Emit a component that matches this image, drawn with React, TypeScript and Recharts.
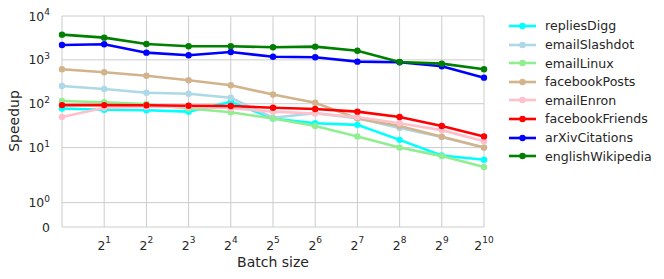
import { LineChart, Line, XAxis, YAxis, CartesianGrid } from 'recharts';

// batch size = 2^k
const batchExp = [0, 1, 2, 3, 4, 5, 6, 7, 8, 9, 10];

const repliesDigg = [78, 73, 71, 66, 111, 46, 36, 33, 15, 6.6, 5.3];
const emailSlashdot = [254, 217, 178, 169, 137, 48, 61, 47, 28, 17.5, 10];
const emailLinux = [115, 108, 99, 78, 64, 46, 31, 18, 10, 6.4, 3.6];
const facebookPosts = [610, 521, 436, 342, 263, 162, 105, 46, 31, 17.7, 10];
const emailEnron = [50, 81, 84, 84, 79, 66, 60, 50, 36, 25, 14];
const facebookFriends = [93, 93, 92, 90, 89, 81, 76, 66, 50, 31, 18];
const arXivCitations = [2190, 2270, 1460, 1270, 1510, 1180, 1150, 910, 880, 714, 393];
const englishWikipedia = [3760, 3210, 2300, 2040, 2040, 1940, 2000, 1620, 895, 820, 610];

const yTickValues = [0, 1, 10, 100, 1000, 10000];

const seriesList = [
  { name: 'repliesDigg', values: repliesDigg, color: '#00ffff' },
  { name: 'emailSlashdot', values: emailSlashdot, color: '#add8e6' },
  { name: 'emailLinux', values: emailLinux, color: '#90ee90' },
  { name: 'facebookPosts', values: facebookPosts, color: '#d2b48c' },
  { name: 'emailEnron', values: emailEnron, color: '#ffc0cb' },
  { name: 'facebookFriends', values: facebookFriends, color: '#ff0000' },
  { name: 'arXivCitations', values: arXivCitations, color: '#0000ff' },
  { name: 'englishWikipedia', values: englishWikipedia, color: '#008000' },
];

// matplotlib-style symlog (linthresh 2, linscale 1)
const LINTHRESH = 2;
const LINSCALE_ADJ = 1 / (1 - 1 / 10);
const symlog = (v: number) =>
  v <= LINTHRESH ? v * LINSCALE_ADJ : LINTHRESH * (LINSCALE_ADJ + Math.log10(v / LINTHRESH));

const yTickPos = yTickValues.map(symlog);

const data = batchExp.map((k, i) => {
  const row: Record<string, number> = { k };
  seriesList.forEach((s) => {
    row[s.name] = symlog(s.values[i]);
  });
  return row;
});

const FONT = 'DejaVu Sans, sans-serif';
const TEXT = '#262626';
const TICK_SIZE = 12.4;
const SUP_SIZE = 9;

const YTick = ({ x, y, payload }: any) => {
  const idx = yTickPos.findIndex((p) => Math.abs(p - payload.value) < 1e-6);
  const v = yTickValues[idx];
  if (v === 0) {
    return (
      <text x={x - 4} y={y} dy={4.5} textAnchor="end" fontSize={TICK_SIZE} fill={TEXT} fontFamily={FONT}>
        0
      </text>
    );
  }
  const exp = Math.round(Math.log10(v));
  return (
    <text x={x - 4} y={y} dy={4.5} textAnchor="end" fontSize={TICK_SIZE} fill={TEXT} fontFamily={FONT}>
      <tspan>10</tspan>
      <tspan dy={-5.5} fontSize={SUP_SIZE}>{exp}</tspan>
    </text>
  );
};

const XTick = ({ x, y, payload }: any) => {
  if (payload.value === 0) return <g />;
  return (
    <text x={x} y={y} dy={14.5} textAnchor="middle" fontSize={TICK_SIZE} fill={TEXT} fontFamily={FONT}>
      <tspan>2</tspan>
      <tspan dy={-7} fontSize={SUP_SIZE}>{payload.value}</tspan>
    </text>
  );
};

const ChartLegend = () => (
  <div style={{ position: 'absolute', left: 509, top: 16.7, fontFamily: FONT, fontSize: 12.6, color: TEXT }}>
    {seriesList.map((s) => (
      <div key={s.name} style={{ height: 18.6, display: 'flex', alignItems: 'center' }}>
        <svg width={28} height={10}>
          <line x1={0} y1={5} x2={27} y2={5} stroke={s.color} strokeWidth={2.6} />
          <circle cx={13.5} cy={5} r={3.2} fill={s.color} />
        </svg>
        <span style={{ marginLeft: 8, whiteSpace: 'nowrap' }}>{s.name}</span>
      </div>
    ))}
  </div>
);

export default function App() {
  return (
    <div style={{ position: 'absolute', left: 0, top: 0, width: 664, height: 279 }}>
      <LineChart width={664} height={279} data={data} margin={{ top: 16, right: 180, bottom: 0, left: 0 }}>
        <CartesianGrid stroke="#cccccc" strokeWidth={1} />
        <XAxis
          dataKey="k"
          type="number"
          domain={[0, 10]}
          ticks={batchExp}
          interval={0}
          height={52}
          axisLine={false}
          tickLine={false}
          tick={<XTick />}
          label={{
            content: () => (
              <text x={273} y={266.5} textAnchor="middle" fontSize={14} fill={TEXT} fontFamily={FONT}>
                Batch size
              </text>
            ),
          }}
        />
        <YAxis
          type="number"
          domain={[0, symlog(10000)]}
          ticks={yTickPos}
          interval={0}
          width={62}
          axisLine={false}
          tickLine={false}
          tick={<YTick />}
          label={{
            content: () => (
              <text
                transform="translate(18.5,121) rotate(-90)"
                textAnchor="middle"
                fontSize={14}
                fill={TEXT}
                fontFamily={FONT}
              >
                Speedup
              </text>
            ),
          }}
        />
        {seriesList.map((s) => (
          <Line
            key={s.name}
            dataKey={s.name}
            name={s.name}
            stroke={s.color}
            strokeWidth={2.6}
            dot={{ r: 3.2, fill: s.color, stroke: s.color, strokeWidth: 0 }}
            activeDot={false}
            isAnimationActive={false}
            type="linear"
          />
        ))}
      </LineChart>
      <ChartLegend />
    </div>
  );
}
